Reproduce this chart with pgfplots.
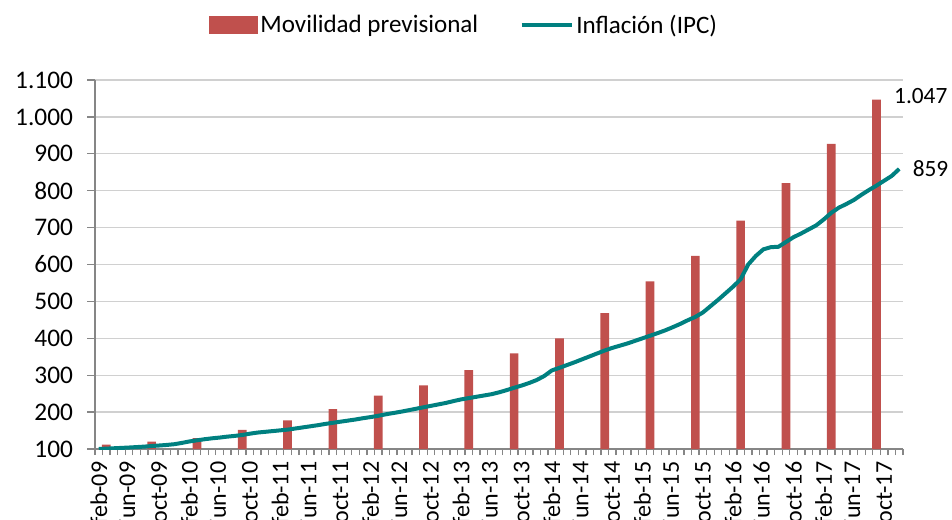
\documentclass[border=0pt]{standalone}
\usepackage{fontspec}
\setmainfont{Carlito}
\usepackage{pgfplots}
\usepackage{pgfplotstable}
\pgfplotsset{compat=1.18}
\definecolor{barred}{RGB}{192,80,77}
\definecolor{tealline}{RGB}{0,128,128}
\definecolor{gridgray}{RGB}{208,208,208}
\definecolor{axisgray}{RGB}{134,134,134}

\pgfplotstableread{
x y
0 100
1 101
2 102
3 103
4 104
5 105.2
6 106.5
7 108
8 109.5
9 111
10 113
11 116.5
12 120.5
13 123.5
14 126.5
15 129
16 131
17 133.5
18 135.5
19 138
20 141.5
21 144.5
22 146.5
23 148.5
24 150.5
25 152.5
26 155.5
27 158.5
28 161.5
29 164.5
30 168
31 171
32 174
33 177
34 180
35 183.5
36 186.5
37 190
38 194
39 197.5
40 201
41 205
42 209
43 213
44 217
45 221
46 225
47 230
48 234.5
49 238
50 241.5
51 245
52 248.5
53 253.5
54 259.5
55 266
56 272
57 279
58 287
59 298
60 313
61 320
62 327.5
63 335
64 343
65 351
66 359
67 367
68 374
69 380
70 386
71 393
72 400
73 407
74 414
75 421.5
76 430
77 439
78 449
79 458
80 470
81 487
82 504
83 522
84 540
85 560
86 600
87 623
88 641
89 647
90 648
91 661
92 674
93 684
94 695
95 706
96 722
97 740
98 754
99 764
100 775
101 789
102 802
103 814
104 827
105 840
106 859
}\ipcdata

\pgfplotstableread{
x y
1 111.7
7 119.9
13 129.7
19 151.7
25 177.9
31 207.9
37 244.5
43 272.5
49 313.8
55 359.0
61 399.6
67 468.4
73 554.0
79 623.1
85 718.8
91 820.6
97 926.9
103 1047
}\movdata

\begin{document}
\begin{tikzpicture}
\useasboundingbox (-71.25pt,-52.5pt) rectangle (642.75pt,336.75pt);
\clip (-71.25pt,-52.5pt) rectangle (642.75pt,336.75pt);
\begin{axis}[
  at={(0pt,0pt)}, anchor=south west,
  scale only axis, width=606pt, height=276.75pt,
  xmin=-0.5, xmax=106.5, ymin=100, ymax=1100,
  clip mode=individual,
  axis lines*=left,
  axis line style={draw=axisgray, line width=1.1pt},
  ytick={100,200,...,1100},
  xtick={0,4,...,104},
  xticklabels={feb-09,jun-09,oct-09,feb-10,jun-10,oct-10,feb-11,jun-11,oct-11,feb-12,jun-12,oct-12,feb-13,jun-13,oct-13,feb-14,jun-14,oct-14,feb-15,jun-15,oct-15,feb-16,jun-16,oct-16,feb-17,jun-17,oct-17},
  minor xtick={-0.5,0.5,...,106.5},
  tick align=outside,
  xtick style={draw=none},
  minor x tick style={draw=axisgray, line width=1pt},
  minor tick length=4.5pt,
  ytick style={draw=axisgray, line width=1pt},
  major tick length=6pt,
  ymajorgrids,
  grid style={draw=gridgray, line width=1pt},
  yticklabel style={font=\fontsize{19}{22}\selectfont, anchor=east, xshift=-7pt},
  xticklabel style={font=\fontsize{18}{20}\selectfont, rotate=90, anchor=east},
  yticklabel={\pgfmathprintnumber[1000 sep={.},assume math mode=true]{\tick}},
  legend style={at={(axis description cs:0.457,1.149)}, anchor=center,
    draw=none, fill=none, font=\fontsize{18.8}{22}\selectfont,
    legend columns=2,
    /tikz/every even column/.append style={column sep=29pt}},
]
\addplot[ybar, bar width=6.5pt, bar shift=0pt, fill=barred, draw=none,
  legend image code/.code={\fill[barred] (0pt,-6.4pt) rectangle (36.75pt,6.4pt);}]
  table[x=x,y=y] {\movdata};
\addlegendentry{Movilidad previsional}
\addplot[tealline, line width=3pt, line join=round,
  legend image code/.code={\draw[tealline, line width=3pt] (0pt,0pt) -- (37.5pt,0pt);}]
  table[x=x,y=y] {\ipcdata};
\addlegendentry{Inflación (IPC)}
\node[anchor=west, font=\fontsize{17.5}{20}\selectfont, inner sep=0pt] at (axis cs:103,1047) [xshift=13pt, yshift=3pt] {1.047};
\node[anchor=west, font=\fontsize{17.5}{20}\selectfont, inner sep=0pt] at (axis cs:106,859) [xshift=10pt, yshift=0pt] {859};
\end{axis}
\end{tikzpicture}
\end{document}
